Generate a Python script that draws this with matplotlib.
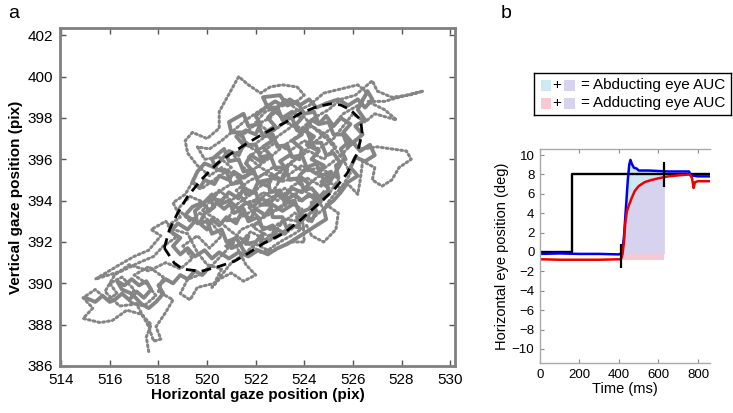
import matplotlib
matplotlib.use('Agg')
from matplotlib import pyplot
from matplotlib.patches import Rectangle

pyplot.rcParams['font.family'] = ['Liberation Sans', 'DejaVu Sans']

# ---- panel a: gaze trace (pix), fast parts drawn dotted ----
gaze_trace = [
    (517.6, 386.7), (517.5, 387.4), (517.7, 388.0), (517.3, 388.5), (516.7, 388.7),
    (516.1, 388.2), (515.6, 388.1), (514.9, 388.3), (515.3, 388.8), (514.9, 389.3),
    (515.4, 389.7), (515.9, 389.2), (516.3, 389.5), (516.0, 390.0), (516.5, 390.3),
    (517.0, 389.7), (516.8, 389.1), (517.4, 388.9), (517.9, 389.4), (517.5, 390.0),
    (517.0, 390.4), (517.6, 390.8), (518.2, 390.3), (518.0, 389.6), (518.6, 389.2),
    (518.3, 388.6), (517.9, 387.9), (518.1, 387.3), (517.8, 387.2), (517.6, 387.9),
    (517.1, 389.0), (516.4, 388.9), (515.8, 389.6), (516.2, 390.4), (516.8, 390.9),
    (517.6, 390.6), (518.3, 391.0), (518.9, 390.7), (519.4, 391.2), (519.0, 391.8),
    (519.6, 392.3), (520.1, 391.7), (520.6, 392.3), (520.2, 392.9), (519.7, 393.4),
    (519.3, 393.0), (518.8, 393.6), (519.3, 394.2), (519.9, 393.9), (520.5, 394.5),
    (521.0, 394.0), (521.6, 394.6), (521.2, 395.2), (520.6, 395.6), (520.1, 395.2),
    (519.6, 395.7), (519.2, 396.3), (519.1, 396.9), (519.4, 397.3), (520.0, 397.0),
    (520.5, 397.5), (520.5, 398.3), (521.3, 400.0), (521.7, 399.6), (522.2, 399.2),
    (522.6, 399.5), (523.1, 399.6), (523.7, 399.5), (524.0, 399.1), (523.6, 398.7),
    (523.0, 398.6), (522.4, 398.3), (522.0, 397.8), (522.6, 397.3), (523.2, 397.8),
    (523.9, 397.5), (524.4, 398.0), (525.0, 398.4), (525.5, 398.9), (526.1, 399.1),
    (526.8, 399.8), (527.0, 399.3), (527.6, 399.0), (528.3, 399.1), (528.9, 399.3),
    (528.2, 399.1), (527.3, 398.8), (526.6, 398.8), (527.3, 398.4), (527.8, 397.9),
    (526.9, 398.2), (526.5, 397.8), (526.0, 398.2), (525.6, 397.6), (525.2, 397.0),
    (524.6, 396.5), (524.0, 396.9), (523.4, 396.4), (522.8, 396.8), (522.2, 396.3),
    (521.6, 396.7), (521.1, 396.2), (521.5, 395.6), (522.1, 395.1), (522.7, 395.6),
    (523.3, 395.2), (523.9, 395.7), (524.5, 395.3), (525.1, 395.8), (525.6, 396.3),
    (526.0, 396.8), (526.4, 396.5), (527.0, 396.6), (527.6, 396.5), (528.2, 396.4),
    (528.4, 396.0), (527.9, 395.6), (527.6, 395.0), (527.2, 394.7), (526.8, 395.0),
    (526.9, 395.6), (526.4, 395.9), (526.3, 395.0), (526.2, 394.3), (525.8, 394.8),
    (525.3, 394.4), (524.9, 393.8), (525.4, 393.4), (525.3, 392.6), (524.8, 392.0),
    (524.3, 392.3), (524.1, 392.8), (523.6, 392.4), (523.0, 392.0), (522.5, 391.6),
    (522.0, 391.9), (521.5, 391.4), (521.0, 391.0), (520.6, 390.4), (520.2, 389.8),
    (520.5, 390.2), (521.0, 390.5), (521.5, 390.1), (522.0, 390.4), (521.6, 390.9),
    (521.2, 391.8), (521.8, 392.5), (522.4, 392.1), (523.0, 392.8), (523.6, 393.4),
    (524.2, 393.0), (524.8, 393.6), (524.4, 394.3), (523.8, 394.0), (523.2, 394.6),
    (522.6, 394.1), (522.0, 393.6), (521.4, 393.2), (520.8, 393.0), (521.2, 393.8),
    (521.8, 394.3), (522.4, 394.9), (523.0, 395.4), (523.6, 396.0), (524.2, 396.4),
    (524.8, 396.0), (525.3, 396.6), (524.9, 397.2), (524.3, 397.6), (523.7, 397.1),
    (523.1, 396.6), (522.5, 396.0), (521.9, 395.5), (521.3, 395.0), (520.7, 394.6),
    (520.2, 394.1), (519.8, 393.5), (520.4, 393.1), (521.0, 392.5), (521.6, 392.0),
    (522.2, 391.5), (522.8, 391.6), (523.4, 392.0), (524.0, 392.0), (523.9, 393.6),
    (523.4, 393.9), (522.8, 393.5), (522.2, 393.1), (521.7, 393.7), (522.3, 394.4),
    (522.9, 394.0), (523.5, 394.7), (524.1, 395.1), (524.7, 394.7), (525.2, 395.2),
    (524.6, 395.6), (524.0, 395.4), (523.4, 395.8), (522.8, 395.2), (522.2, 395.6),
    (521.7, 396.1), (522.3, 396.6), (522.9, 397.1), (523.5, 397.6), (523.0, 398.1),
    (522.5, 398.6), (522.1, 398.3), (521.6, 397.9), (521.1, 397.4), (520.6, 396.9),
    (520.1, 396.5), (519.6, 396.6), (519.9, 396.0), (520.5, 396.1), (521.0, 395.6),
    (520.4, 395.1), (519.8, 394.6), (519.4, 394.9), (519.1, 394.3), (518.6, 393.9),
    (518.9, 393.2), (518.4, 392.8), (518.7, 392.2), (518.2, 391.8), (517.8, 391.3),
    (517.2, 391.0), (516.5, 390.6), (515.4, 390.2), (516.4, 390.9), (517.0, 391.3),
    (517.6, 391.6), (518.1, 392.3), (517.7, 392.6), (518.3, 393.0), (518.6, 392.6),
    (519.2, 392.4), (519.6, 391.5), (520.0, 390.9), (520.6, 390.7), (520.3, 390.0),
    (519.6, 389.8), (519.3, 389.2), (518.9, 389.5), (519.2, 390.2), (519.9, 390.5),
    (520.8, 391.6), (521.4, 392.6), (522.0, 392.9), (522.6, 392.6), (523.2, 393.1),
    (523.8, 393.0), (524.3, 393.4), (524.6, 394.0), (524.1, 394.4), (523.6, 395.1),
    (523.0, 394.9), (522.4, 395.3), (521.8, 395.0), (521.2, 394.5), (521.6, 393.9),
    (522.2, 394.1), (522.8, 394.6), (523.3, 395.6), (523.9, 396.3), (524.5, 396.9),
    (525.1, 397.5), (525.6, 398.2), (526.2, 398.6), (526.6, 399.2), (526.2, 399.6),
    (525.5, 399.4), (524.8, 399.2), (524.2, 398.6), (523.6, 398.3), (523.0, 397.6),
    (522.4, 397.1), (521.8, 396.6), (521.4, 397.1), (521.9, 397.6), (522.6, 398.0),
    (523.2, 398.9), (523.8, 398.3), (524.4, 397.5), (525.0, 396.9), (525.6, 396.0),
    (525.9, 395.3), (525.5, 394.6), (525.0, 394.9), (524.6, 395.2), (524.0, 394.6),
    (523.5, 394.2), (522.9, 393.6), (522.4, 393.4), (521.9, 392.7), (522.5, 392.3),
    (523.2, 392.4), (523.8, 392.9), (524.4, 393.6), (525.0, 394.3), (525.4, 395.0),
]

# ---- panel a: slow (fixation) parts where the samples merge into a solid line ----
core_trace = [
    (520.8, 391.8), (521.1, 392.1), (521.0, 391.7), (521.4, 391.9), (521.7, 392.3),
    (521.6, 391.9), (522.0, 392.0), (522.3, 392.4), (522.2, 391.9), (522.6, 392.1),
    (522.9, 392.6), (523.2, 392.4), (523.4, 392.8), (523.8, 392.7), (523.7, 393.2),
    (524.1, 393.3), (524.3, 393.0), (524.5, 393.5), (524.3, 393.9), (524.8, 394.1),
    (525.0, 394.6), (524.7, 394.9), (525.1, 395.3), (525.4, 395.1), (525.3, 395.7),
    (525.7, 396.0), (525.5, 396.5), (525.9, 396.9), (525.6, 397.3), (525.9, 397.7),
    (525.5, 398.0), (525.2, 397.6), (524.9, 398.1), (524.6, 397.7), (524.3, 397.9),
    (524.0, 397.4), (524.4, 397.1), (524.1, 396.7), (524.6, 396.4), (524.3, 396.0),
    (524.8, 395.7), (524.5, 395.3), (524.1, 395.6), (523.8, 395.2), (524.2, 394.8),
    (523.9, 394.4), (523.5, 394.6), (523.2, 394.2), (523.5, 393.8), (523.1, 393.5),
    (522.7, 393.8), (522.4, 393.3), (522.0, 393.6), (521.8, 393.1), (521.4, 393.4),
    (521.2, 392.9), (520.8, 393.2), (520.5, 392.8), (520.2, 393.1), (520.0, 392.6),
    (519.7, 392.9), (519.9, 393.4), (520.3, 393.7), (520.1, 394.1), (520.6, 394.0),
    (520.9, 394.4), (521.3, 394.1), (521.5, 394.6), (521.9, 394.4), (522.1, 394.9),
    (522.5, 394.7), (522.7, 395.2), (523.1, 395.0), (523.3, 395.5), (523.0, 395.9),
    (523.4, 396.2), (523.8, 396.0), (523.9, 396.5), (523.5, 396.9), (523.9, 397.2),
    (523.6, 397.6), (523.9, 398.0), (523.5, 398.3), (523.1, 398.0), (522.8, 398.4),
    (522.5, 398.0), (522.8, 397.6), (522.4, 397.3), (522.7, 396.9), (522.3, 396.6),
    (522.6, 396.2), (522.2, 395.9), (521.8, 396.2), (521.6, 395.8), (521.9, 395.4),
    (521.5, 395.1), (521.1, 395.4), (520.9, 395.0), (520.5, 395.2), (520.3, 394.8),
    (519.9, 395.0), (519.7, 394.6), (519.4, 394.9), (519.6, 395.4), (519.9, 395.8),
    (520.3, 395.6), (520.6, 396.0), (520.9, 396.4), (521.3, 396.2), (521.5, 396.7),
    (521.2, 397.1), (521.6, 397.4), (522.0, 397.2), (522.2, 397.7), (522.0, 398.1),
    (522.4, 398.5), (522.8, 398.8), (523.1, 398.6), (523.4, 398.9), (523.8, 398.6),
    (524.2, 398.9), (524.5, 398.5), (524.9, 398.7), (525.4, 398.9), (525.8, 398.6),
    (526.2, 398.9), (526.5, 398.5), (526.8, 398.9), (526.6, 399.3), (526.2, 398.4),
    (526.5, 397.9), (526.1, 397.6), (526.4, 397.2), (526.0, 396.8), (526.3, 396.4),
    (526.7, 396.7), (526.9, 396.2), (526.5, 395.9), (526.1, 396.1), (525.9, 395.6),
    (526.2, 395.2), (525.8, 394.9), (525.5, 394.4), (525.2, 394.0), (524.8, 393.6),
    (524.9, 393.1), (524.5, 392.8), (524.1, 392.5), (523.7, 392.2), (523.3, 391.9),
    (522.9, 391.7), (522.5, 391.4), (522.1, 391.6), (521.7, 391.3), (521.3, 391.5),
    (520.9, 391.2), (520.5, 391.5), (520.2, 391.2), (519.9, 391.6), (519.5, 391.3),
    (519.2, 391.7), (518.9, 391.4), (518.6, 391.8), (518.9, 392.2), (518.5, 392.5),
    (518.8, 392.9), (519.2, 392.6), (519.5, 393.0), (519.1, 393.3), (519.4, 393.7),
    (519.8, 393.9), (520.1, 393.5), (520.4, 393.9), (520.7, 393.6), (521.0, 393.9),
    (521.3, 393.6), (521.6, 393.9), (521.9, 393.7), (522.2, 394.1), (522.6, 393.9),
    (522.9, 394.3), (523.2, 394.0), (523.6, 394.3), (523.9, 394.0), (524.2, 394.3),
    (524.5, 394.0), (524.8, 394.4),
]

# cross sweeps through the densest part of the fixation cloud
cross_trace = [
    (521.5, 391.6), (521.2, 392.2), (520.8, 392.0), (520.6, 392.6), (520.2, 392.4),
    (520.0, 393.0), (519.6, 392.9), (519.5, 393.5), (519.8, 393.8), (520.2, 394.3),
    (520.5, 393.8), (520.9, 394.0), (521.1, 393.4), (521.5, 393.6), (521.7, 393.0),
    (522.1, 393.2), (522.3, 392.6), (522.7, 392.8), (522.8, 392.2), (523.3, 392.6),
    (523.1, 393.2), (522.7, 393.2), (522.6, 393.8), (522.2, 393.8), (522.0, 394.4),
    (521.6, 394.3), (521.4, 394.9), (521.0, 394.8), (520.8, 395.4), (520.4, 395.5),
    (520.2, 396.0), (520.7, 396.5), (520.9, 395.9), (521.3, 396.0), (521.5, 395.4),
    (521.9, 395.5), (522.1, 394.9), (522.5, 395.0), (522.6, 394.4), (523.0, 394.5),
    (523.2, 393.9), (523.6, 394.0), (523.8, 393.4), (524.2, 393.6), (524.6, 394.2),
    (524.3, 394.6), (524.0, 394.5), (523.8, 395.1), (523.4, 395.0), (523.2, 395.6),
    (522.8, 395.6), (522.6, 396.2), (522.2, 396.1), (522.0, 396.7), (521.6, 396.7),
    (521.4, 397.3), (521.0, 397.3), (520.9, 397.8), (521.5, 398.2), (521.7, 397.6),
    (522.1, 397.7), (522.3, 397.1), (522.7, 397.2), (522.9, 396.6), (523.3, 396.7),
    (523.5, 396.1), (523.9, 396.2), (524.1, 395.6), (524.5, 395.8), (524.7, 395.2),
    (525.1, 395.4), (525.0, 394.8), (525.5, 395.8), (525.2, 396.3), (524.9, 396.2),
    (524.7, 396.8), (524.3, 396.8), (524.1, 397.4), (523.7, 397.4), (523.5, 398.0),
    (523.1, 397.9), (522.9, 398.5), (522.5, 398.5), (522.3, 399.0), (523.0, 399.1),
    (523.3, 398.6), (523.7, 398.8), (524.0, 398.2), (524.4, 398.3), (524.6, 397.7),
    (525.0, 397.8), (525.2, 397.2), (525.6, 397.2), (525.8, 396.6), (526.1, 396.9),
]

cluster_trace = [
    (515.0, 389.3), (515.4, 389.1), (515.7, 389.4), (516.0, 389.1), (516.2, 389.2),
    (516.5, 389.5), (516.8, 389.2), (517.1, 389.6), (517.4, 389.3), (517.7, 389.7),
    (517.5, 390.1), (517.2, 389.9), (516.9, 390.2), (516.6, 389.9), (516.3, 390.1),
    (516.5, 389.7), (516.9, 389.5), (517.3, 389.0), (517.6, 388.8), (517.9, 389.1),
    (518.2, 389.5), (518.0, 389.9), (518.3, 390.2), (518.6, 390.0), (518.9, 390.4),
    (519.2, 390.2), (519.5, 390.6), (519.8, 390.4), (520.1, 390.8),
]

# ---- panel a: dashed ellipse outline (pix) ----
ellipse_x = [518.24, 518.65, 519.0, 519.75, 520.5, 521.11, 521.66, 522.35, 523.17, 523.85,
             524.54, 525.22, 525.77, 526.18, 526.38, 526.32, 525.9, 525.49, 525.08, 524.54,
             523.85, 523.17, 522.35, 521.66, 521.11, 520.43, 519.75, 519.2, 518.79, 518.45,
             518.24]
ellipse_y = [391.71, 390.98, 390.69, 390.58, 390.82, 391.06, 391.43, 391.95, 392.43, 393.07,
             393.8, 394.52, 395.33, 396.3, 397.26, 397.91, 398.39, 398.63, 398.68, 398.55,
             398.23, 397.75, 397.26, 396.78, 396.37, 395.81, 395.0, 394.2, 393.4, 392.59,
             391.71]

# ---- panel b: eye traces (ms, deg) ----
target_t = [0, 160, 160, 860]
target_pos = [0, 0, 8, 8]

blue_t = [0, 100, 200, 300, 400, 415, 425, 435, 445, 452, 458, 465, 475, 490, 500, 550,
          600, 650, 700, 755, 762, 800, 860]
blue_pos = [-0.2, -0.15, -0.2, -0.2, -0.25, -0.1, 1.5, 4.5, 7.5, 9.0, 9.5, 9.1, 8.7, 8.6,
            8.4, 8.4, 8.35, 8.3, 8.3, 8.3, 7.9, 7.8, 7.8]

red_t = [0, 100, 200, 300, 410, 418, 425, 432, 440, 450, 465, 480, 500, 530, 560, 600,
         650, 700, 760, 770, 778, 785, 800, 860]
red_pos = [-0.75, -0.8, -0.8, -0.8, -0.75, -0.2, 1.0, 3.0, 4.2, 4.8, 5.6, 6.3, 6.8, 7.2,
           7.4, 7.6, 7.8, 7.9, 8.0, 7.6, 6.6, 7.2, 7.3, 7.3]

auc_start = 415
auc_end = 630
blue_base = -0.2
red_base = -0.8
marker_t = [410, 630]
marker_lo = [-1.65, 6.7]
marker_hi = [0.85, 9.3]

legend_rows = ['Abducting eye AUC', 'Adducting eye AUC']

c_light_blue = '#cdeaf4'
c_purple = '#d7d2ee'
c_pink = '#f8c9d4'
c_gaze = '#858585'


def interp(t, ts, vs):
    for i in range(len(ts) - 1):
        if ts[i] <= t <= ts[i + 1]:
            if ts[i + 1] == ts[i]:
                return vs[i + 1]
            f = (t - ts[i]) / (ts[i + 1] - ts[i])
            return vs[i] + f * (vs[i + 1] - vs[i])
    return vs[-1]


def draw_gaze(fig):
    ax = fig.add_axes([60 / 733, 47 / 413, 395 / 733, 338 / 413])
    for trace in [core_trace, cross_trace, cluster_trace]:
        ax.plot([p[0] for p in trace], [p[1] for p in trace], '-', color=c_gaze,
                linewidth=2.8, solid_joinstyle='round')
    ax.plot([p[0] for p in gaze_trace], [p[1] for p in gaze_trace],
            linestyle=(0, (0.6, 1.0)), color=c_gaze, linewidth=2.2, dash_capstyle='round')
    ax.plot(ellipse_x, ellipse_y, linestyle=(0, (3.5, 2.2)), color='black', linewidth=2.0)

    ax.set_xlim(513.95, 530.2)
    ax.set_ylim(386.0, 402.35)
    ax.set_xticks(range(514, 531, 2))
    ax.set_yticks(range(386, 403, 2))
    ax.tick_params(direction='in', top=True, right=True, length=4, width=1,
                   color='#555555', labelsize=11, pad=5)
    for s in ax.spines.values():
        s.set_color('#808080')
        s.set_linewidth(2)
    ax.set_xlabel('Horizontal gaze position (pix)', fontsize=11, fontweight='bold', labelpad=1)
    ax.set_ylabel('Vertical gaze position (pix)', fontsize=11, fontweight='bold', labelpad=3)


def draw_traces(fig):
    ax = fig.add_axes([540 / 733, 50 / 413, 170 / 733, 214 / 413])

    ts = [t for t in range(auc_start, auc_end + 1, 5)]
    red_v = [interp(t, red_t, red_pos) for t in ts]
    blue_v = [interp(t, blue_t, blue_pos) for t in ts]
    ax.fill_between(ts, red_base, blue_base, color=c_pink, linewidth=0)
    ax.fill_between(ts, blue_base, red_v, color=c_purple, linewidth=0)
    ax.fill_between(ts, red_v, blue_v, color=c_light_blue, linewidth=0)

    ax.plot(target_t, target_pos, color='black', linewidth=1.7)
    ax.plot(blue_t, blue_pos, color='#0000ee', linewidth=1.8)
    ax.plot(red_t, red_pos, color='#ee0000', linewidth=1.8)
    ax.vlines(marker_t, marker_lo, marker_hi, color='black', linewidth=1.6)

    ax.set_xlim(0, 861)
    ax.set_ylim(-11.45, 10.62)
    ax.set_xticks([0, 200, 400, 600, 800])
    ax.set_yticks(range(-10, 11, 2))
    ax.tick_params(direction='in', top=True, length=3, width=0.8, color='#888888',
                   labelsize=9.5, pad=4)
    ax.spines['right'].set_visible(False)
    for s in ['left', 'top', 'bottom']:
        ax.spines[s].set_color('#aaaaaa')
        ax.spines[s].set_linewidth(1)
    ax.set_xlabel('Time (ms)', fontsize=10.5, labelpad=1)
    ax.set_ylabel('Horizontal eye position (deg)', fontsize=10.5, labelpad=2)


def draw_legend(fig):
    lax = fig.add_axes([534 / 733, 298 / 413, 197 / 733, 42 / 413])
    lax.set_xlim(0, 197)
    lax.set_ylim(0, 42)
    lax.set_xticks([])
    lax.set_yticks([])
    for s in lax.spines.values():
        s.set_color('black')
        s.set_linewidth(1)
    swatches = [(c_light_blue, c_purple), (c_pink, c_purple)]
    for i, (label, (c1, c2)) in enumerate(zip(legend_rows, swatches)):
        yc = 30 - i * 18
        lax.add_patch(Rectangle((7, yc - 5.5), 10, 11, color=c1, linewidth=0))
        lax.text(23, yc, '+', fontsize=11, ha='center', va='center')
        lax.add_patch(Rectangle((30, yc - 5.5), 11, 11, color=c2, linewidth=0))
        lax.text(51, yc, '=', fontsize=11, ha='center', va='center')
        lax.text(59, yc, label, fontsize=11, ha='left', va='center')


def main():
    fig = pyplot.figure(figsize=(7.33, 4.13), dpi=100)
    draw_gaze(fig)
    draw_traces(fig)
    draw_legend(fig)
    fig.text(8 / 733, 1 - 13 / 413, 'a', fontsize=14, va='center')
    fig.text(501 / 733, 1 - 13 / 413, 'b', fontsize=14, va='center')
    fig.savefig('out.png', dpi=100)


if __name__ == '__main__':
    main()
